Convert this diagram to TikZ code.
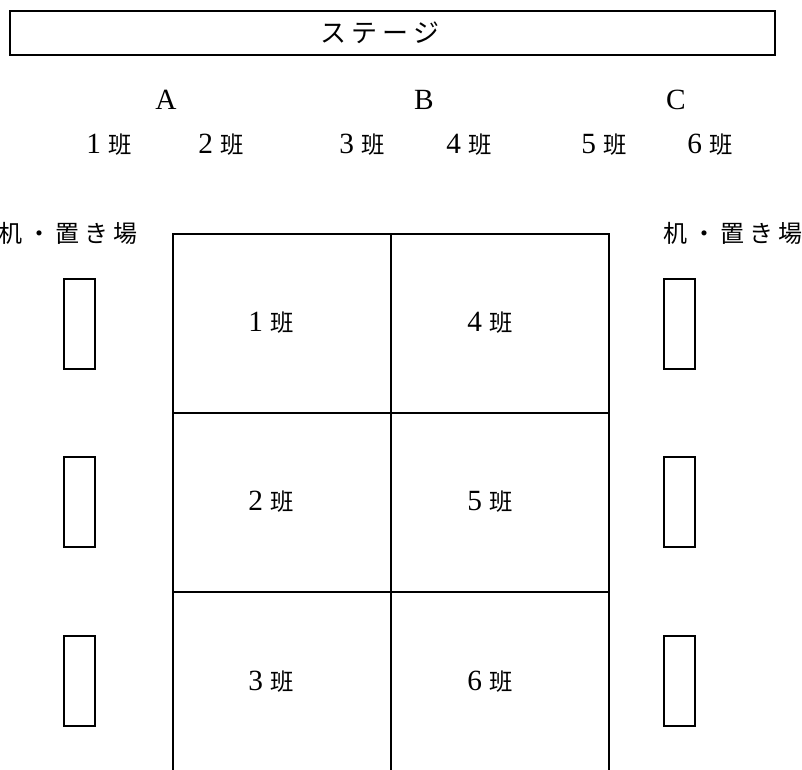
\documentclass[tikz,border=0pt]{standalone}
\usepackage{fontspec}
\usetikzlibrary{positioning}
\setmainfont{Liberation Serif}
\newfontfamily\jp{Noto Sans CJK JP}
\newfontfamily\jpwide{Noto Sans CJK JP}[LetterSpace=20]
\newcommand\ban{{\jp\fontsize{17.5}{20}\selectfont 班}}

\begin{document}
\begin{tikzpicture}[x=0.75pt, y=-0.75pt, font=\fontsize{22}{26}\selectfont, node distance=0pt]
\tikzset{
  stagebox/.style={rectangle, draw, line width=1.3pt, minimum width=573.75pt, minimum height=33pt, inner sep=0pt},
  cell/.style    ={rectangle, draw, line width=1pt, minimum width=163.5pt, minimum height=134.25pt, inner sep=0pt, outer sep=0pt},
  desk/.style    ={rectangle, draw, line width=0.8pt, minimum width=23.25pt, minimum height=67.5pt, inner sep=0pt},
  lbl/.style     ={inner sep=0pt},
  place/.style   ={inner sep=0pt, font=\jpwide\fontsize{18}{20}\selectfont}
}
\useasboundingbox (0,0) rectangle (802,769);
% stage
\node[stagebox] (stage) at (392.5,33) {};
\node[place, font=\jpwide\fontsize{19.5}{22}\selectfont] (stagetxt) at (380,33) {ステージ};
% blocks and groups
\node[lbl] (A) at (166,100) {A};
\node[lbl] (B) at (424,100) {B};
\node[lbl] (C) at (676,100) {C};
\node[lbl] (g1) at (109,145) {1 \ban};
\node[lbl] (g2) at (221,145) {2 \ban};
\node[lbl] (g3) at (362,145) {3 \ban};
\node[lbl] (g4) at (469,145) {4 \ban};
\node[lbl] (g5) at (604,145) {5 \ban};
\node[lbl] (g6) at (710,145) {6 \ban};
% floor
\node[cell] (c1) at (282,323.5) {};
\node[cell, below=of c1] (c2) {};
\node[cell, below=of c2] (c3) {};
\node[cell, right=of c1] (c4) {};
\node[cell, below=of c4] (c5) {};
\node[cell, below=of c5] (c6) {};
\node[lbl] (t1) at (271,323) {1 \ban};
\node[lbl] (t2) at (271,502) {2 \ban};
\node[lbl] (t3) at (271,682) {3 \ban};
\node[lbl] (t4) at (490,323) {4 \ban};
\node[lbl] (t5) at (490,502) {5 \ban};
\node[lbl] (t6) at (490,682) {6 \ban};
% desks
\node[place] (pl) at (68,233) {机・置き場};
\node[place] (pr) at (733,233) {机・置き場};
\node[desk] (dl1) at (79.5,324) {};
\node[desk] (dl2) at (79.5,502) {};
\node[desk] (dl3) at (79.5,681) {};
\node[desk] (dr1) at (679.5,324) {};
\node[desk] (dr2) at (679.5,502) {};
\node[desk] (dr3) at (679.5,681) {};
\end{tikzpicture}
\end{document}
